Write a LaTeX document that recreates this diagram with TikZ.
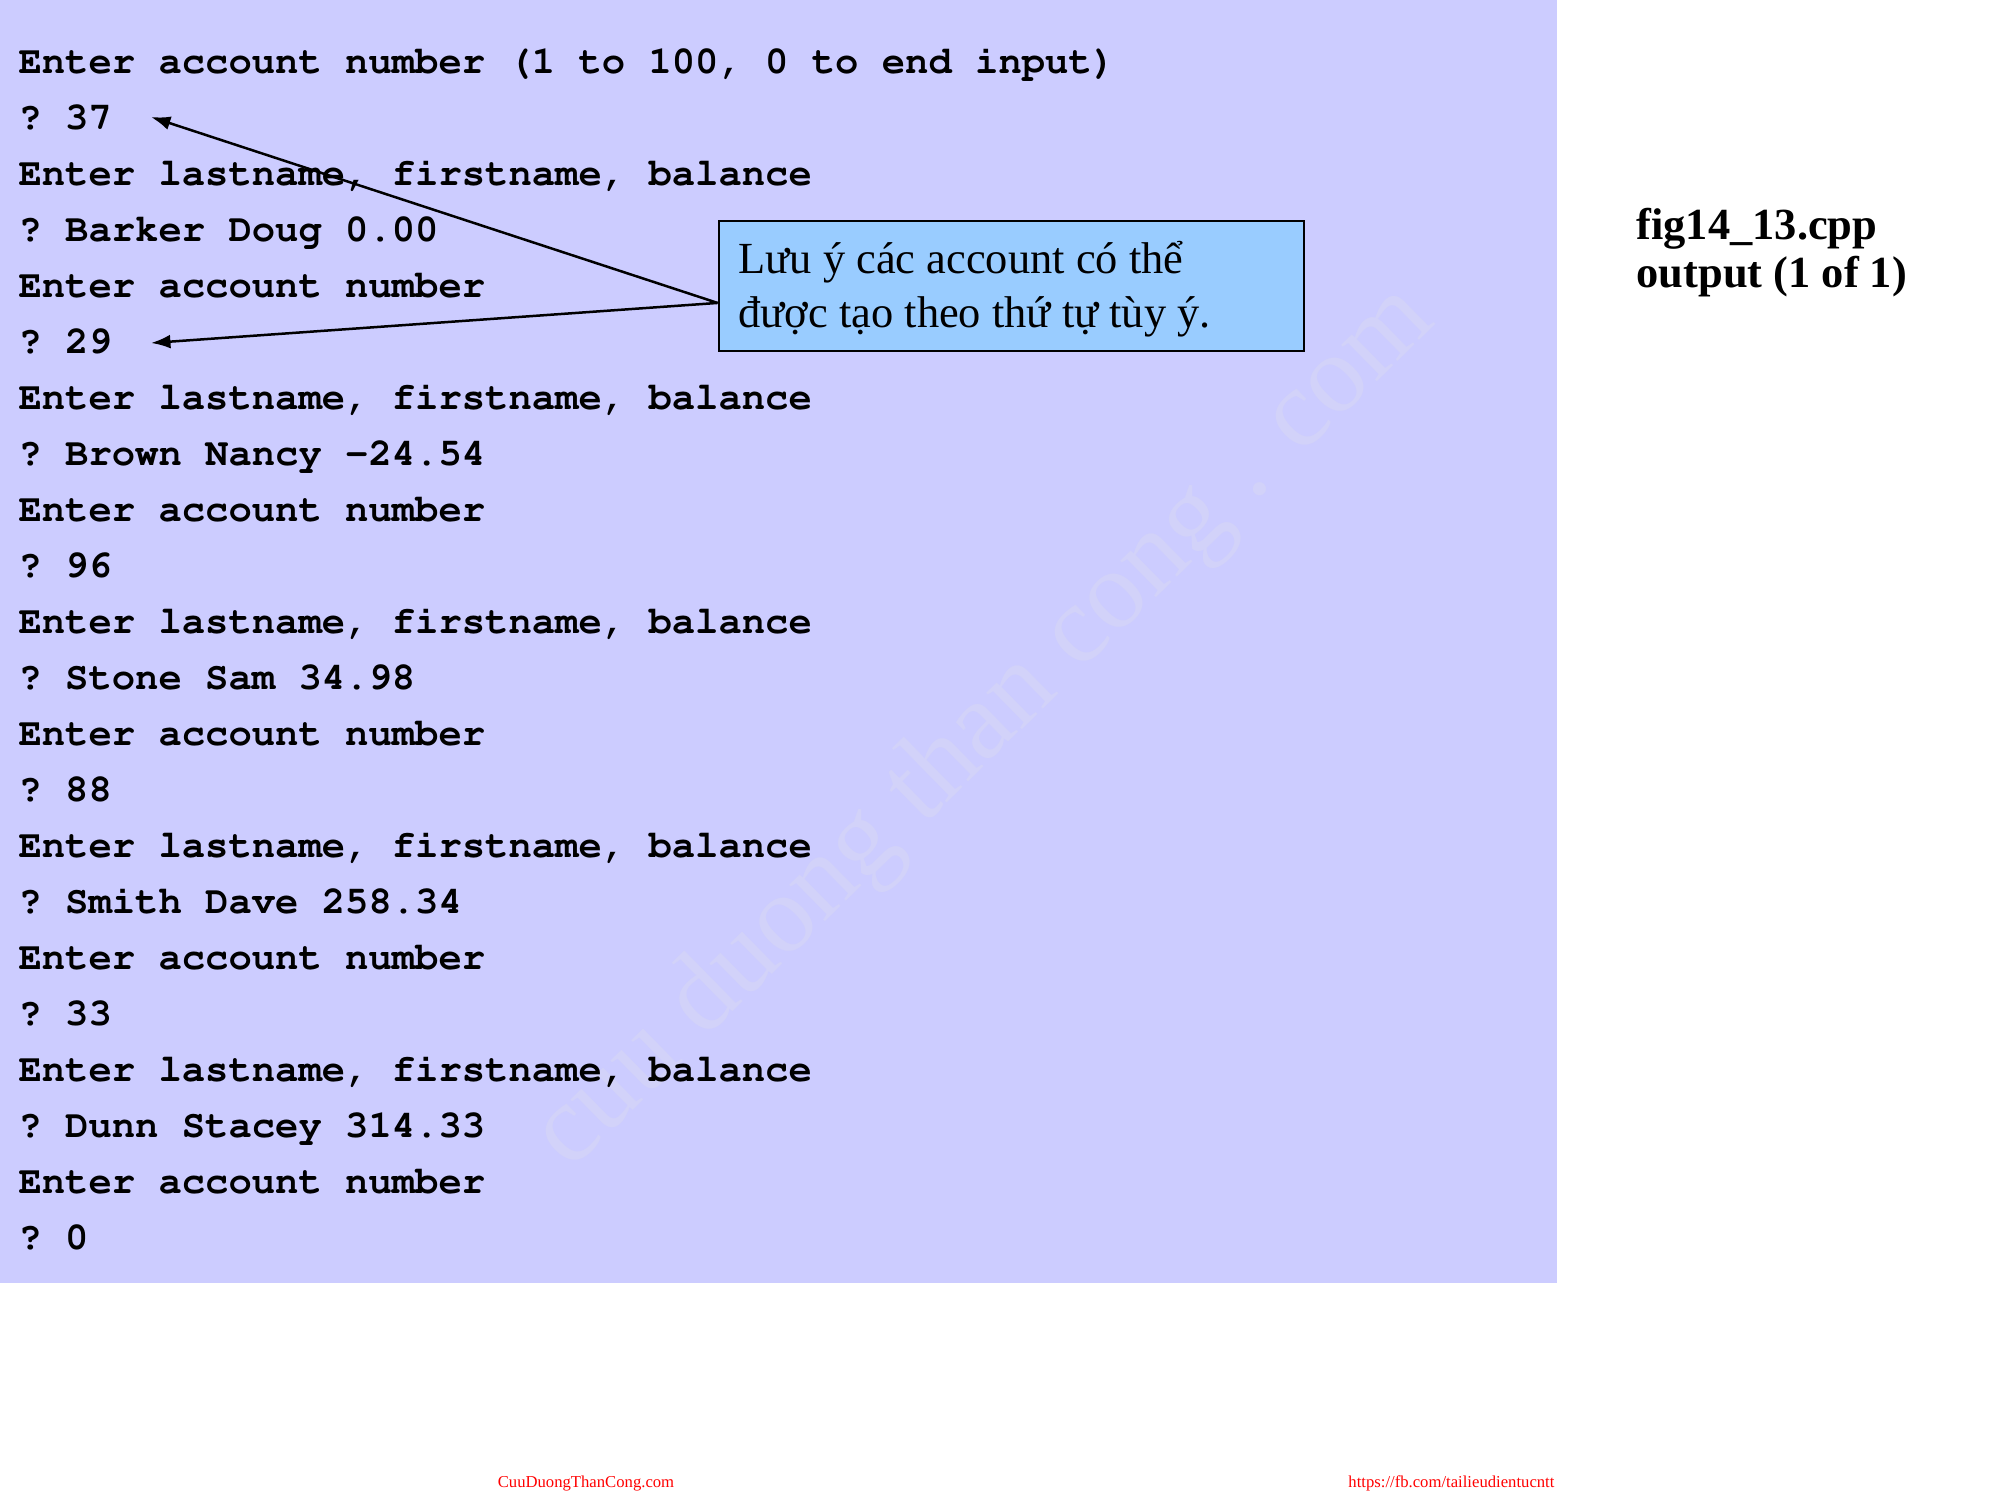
\documentclass[tikz,border=0pt]{standalone}
\usepackage[T1]{fontenc}
\usepackage{fontspec}
\setmainfont{Liberation Serif}
\newcommand\couriercode{\fontencoding{T1}\fontfamily{pcr}\fontseries{b}\selectfont\frenchspacing}
\usetikzlibrary{arrows.meta,calc}
\definecolor{bgblue}{HTML}{CCCCFF}
\definecolor{notefill}{HTML}{99CCFF}
\definecolor{wmark}{RGB}{210,210,249}
\begin{document}
\begin{tikzpicture}[x=0.36pt,y=-0.36pt,
  codeline/.style={anchor=base west,inner sep=0pt,font=\fontsize{14pt}{16pt}\couriercode},
  notebox/.style={draw=black,line width=1pt,fill=notefill,minimum width=210.6pt,minimum height=46.8pt,inner sep=0pt},
  notetext/.style={anchor=base west,inner sep=0pt,font=\fontsize{16pt}{19pt}\selectfont},
  figlabel/.style={anchor=base west,inner sep=0pt,font=\bfseries\fontsize{16pt}{19pt}\selectfont},
  footer/.style={inner sep=0pt,text=red,font=\fontsize{6pt}{7pt}\selectfont},
  wmarkstyle/.style={anchor=base west,inner sep=0pt,text=wmark,rotate=44.4,font=\fontsize{40pt}{44pt}\selectfont},
  callout/.style={draw=black,line width=0.9pt,-{Latex[length=7pt,width=5pt]}}]
\useasboundingbox (0,0) rectangle (2000,1500);
\fill[white] (0,0) rectangle (2000,1500);
\fill[bgblue] (0,0) rectangle (1557,1283);
\node[wmarkstyle] (wm) at (570,1172) {cuu duong than cong . com};
\foreach \t [count=\i] in {
  {Enter account number (1 to 100, 0 to end input)},
  {? 37},
  {Enter lastname, firstname, balance},
  {? Barker Doug 0.00},
  {Enter account number},
  {? 29},
  {Enter lastname, firstname, balance},
  {? Brown Nancy -24.54},
  {Enter account number},
  {? 96},
  {Enter lastname, firstname, balance},
  {? Stone Sam 34.98},
  {Enter account number},
  {? 88},
  {Enter lastname, firstname, balance},
  {? Smith Dave 258.34},
  {Enter account number},
  {? 33},
  {Enter lastname, firstname, balance},
  {? Dunn Stacey 314.33},
  {Enter account number},
  {? 0}}
  {\node[codeline] (l\i) at (18,{73.5+56*(\i-1)}) {\t};}
\node[notebox] (note) at (1011.5,286) {};
\node[notetext] (n1) at (738,274) {Lưu ý các account có thể};
\node[notetext] (n2) at (738,328) {được tạo theo thứ tự tùy ý.};
\coordinate (src) at ([yshift=-6.1pt]note.west);
\coordinate (tip37) at (151,117);
\coordinate (tip29) at (151,343);
\draw[callout] (src) -- (tip37);
\draw[callout] (src) -- (tip29);
\node[figlabel] (fig) at (1636,240) {fig14\_13.cpp};
\node[figlabel] (out) at (1636,288) {output (1 of 1)};
\node[footer,anchor=base] (f1) at (586,1487) {CuuDuongThanCong.com};
\node[footer,anchor=base east] (f2) at (1555,1487) {https://fb.com/tailieudientucntt};
\end{tikzpicture}
\end{document}
